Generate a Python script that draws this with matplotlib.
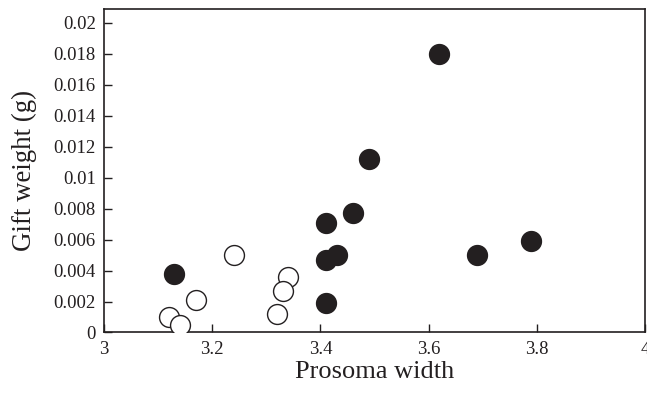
import matplotlib
matplotlib.use("Agg")
import matplotlib.pyplot as plt

# Prosoma width vs gift weight, two groups (filled / open circles)
filled_x = [3.13, 3.62, 3.49, 3.41, 3.46, 3.41, 3.43, 3.41, 3.69, 3.79]
filled_y = [0.0038, 0.0180, 0.0112, 0.0071, 0.0077, 0.0047, 0.0050, 0.0019, 0.0050, 0.0059]

open_x = [3.12, 3.14, 3.17, 3.24, 3.34, 3.33, 3.32]
open_y = [0.0010, 0.0005, 0.0021, 0.0050, 0.0036, 0.0027, 0.0012]

x_ticks = [3, 3.2, 3.4, 3.6, 3.8, 4]
x_labels = ["3", "3.2", "3.4", "3.6", "3.8", "4"]
y_ticks = [0, 0.002, 0.004, 0.006, 0.008, 0.01, 0.012, 0.014, 0.016, 0.018, 0.02]
y_labels = ["0", "0.002", "0.004", "0.006", "0.008", "0.01",
            "0.012", "0.014", "0.016", "0.018", "0.02"]

ink = "#231f20"
plt.rcParams["font.family"] = "Liberation Serif"

fig = plt.figure(figsize=(6.47, 3.93), dpi=100)
ax = fig.add_axes([0.1607, 0.154, 0.8363, 0.823])

ax.scatter(filled_x, filled_y, s=205, color=ink, edgecolors=ink, linewidths=1, zorder=3)
ax.scatter(open_x, open_y, s=205, facecolors="white", edgecolors=ink, linewidths=1, zorder=3)

ax.set_xlim(3, 4)
ax.set_ylim(0, 0.0209)
ax.set_xticks(x_ticks)
ax.set_xticklabels(x_labels)
ax.set_yticks(y_ticks)
ax.set_yticklabels(y_labels)

for s in ax.spines.values():
    s.set_color(ink)
    s.set_linewidth(1.2)

ax.tick_params(direction="in", length=6, width=1, color=ink, labelcolor=ink,
               labelsize=13.5, pad=6, top=False, right=False)

ax.set_xlabel("Prosoma width", fontsize=19, color=ink, labelpad=2)
ax.set_ylabel("Gift weight (g)", fontsize=19.4, color=ink, labelpad=12)

fig.savefig("out.png", dpi=100)
